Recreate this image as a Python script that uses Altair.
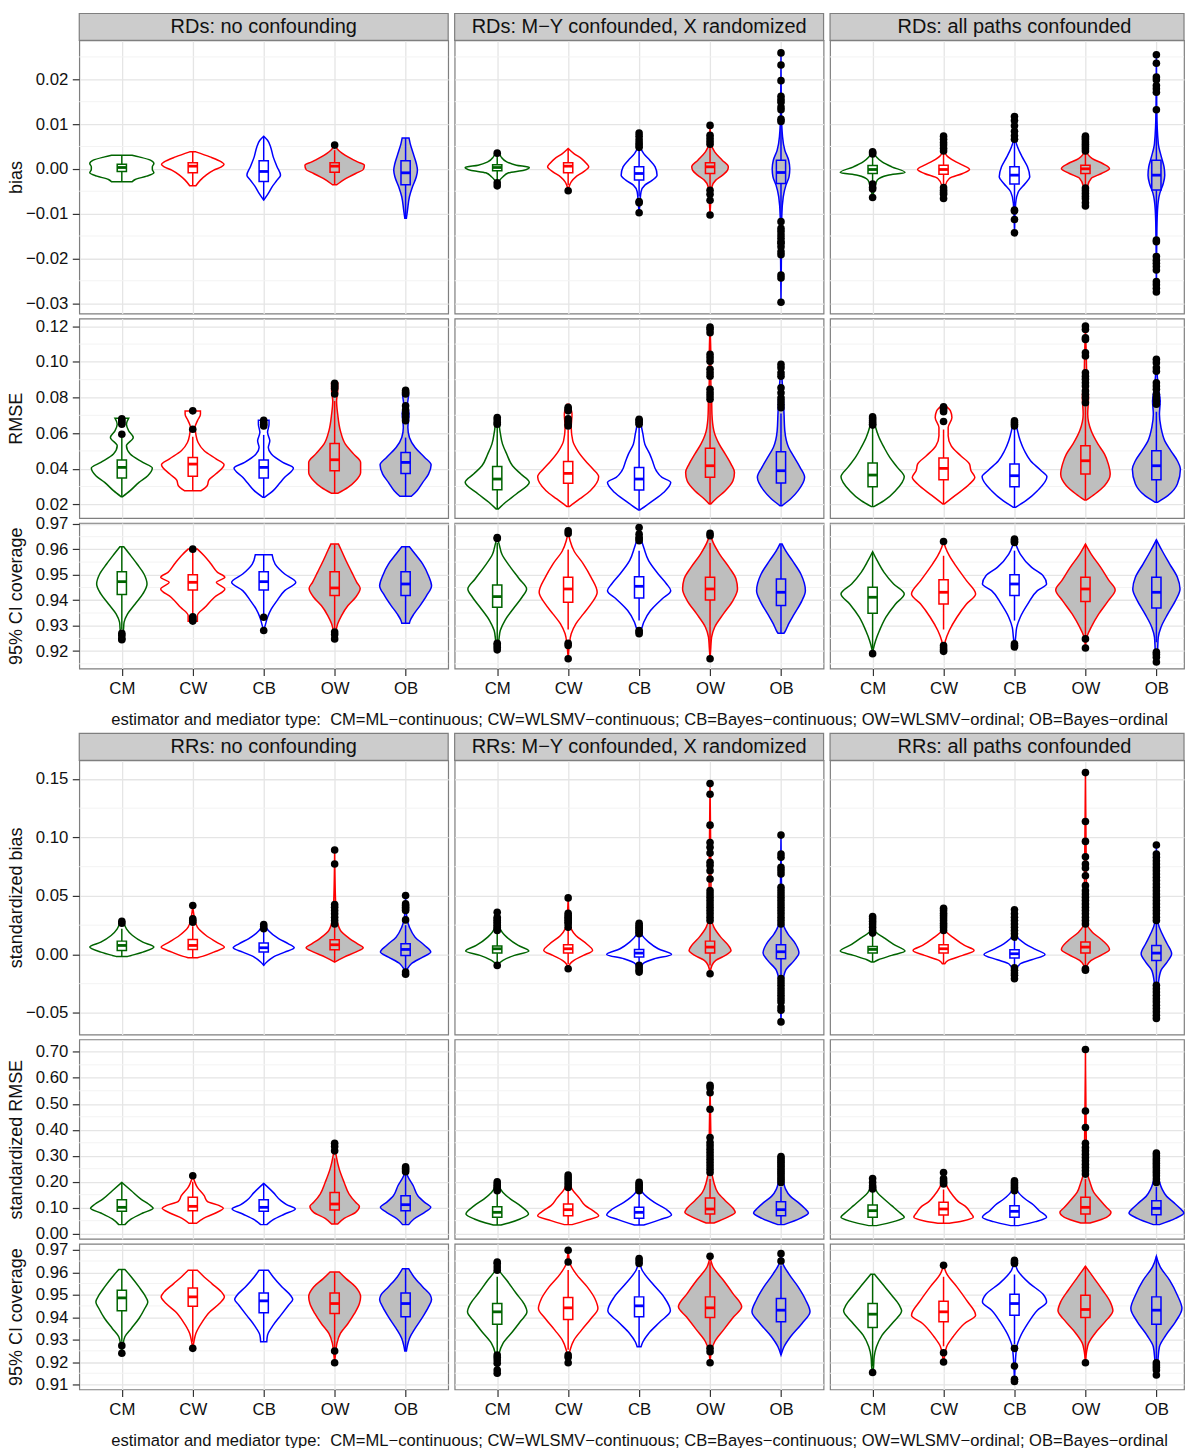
import altair as alt
import pandas as pd

FONT = "Liberation Sans"
CATS = ["CM", "CW", "CB", "OW", "OB"]
LINE = {"CM": "#006400", "CW": "#ff0000", "CB": "#0000ff", "OW": "#ff0000", "OB": "#0000ff"}
FILL = {"CM": "#ffffff", "CW": "#ffffff", "CB": "#ffffff", "OW": "#bebebe", "OB": "#bebebe"}

STRIPS_RD = ["RDs: no confounding", "RDs: M\u2212Y confounded, X randomized", "RDs: all paths confounded"]
STRIPS_RR = ["RRs: no confounding", "RRs: M\u2212Y confounded, X randomized", "RRs: all paths confounded"]
CAPTION = ("estimator and mediator type:\u00a0 CM=ML\u2212continuous; CW=WLSMV\u2212continuous; "
           "CB=Bayes\u2212continuous; OW=WLSMV\u2212ordinal; OB=Bayes\u2212ordinal")

ROW_TITLES = ["bias", "RMSE", "95% CI coverage", "standardized bias", "standardized RMSE", "95% CI coverage"]
ROW_TICKS = [
    [-0.03, -0.02, -0.01, 0.0, 0.01, 0.02],
    [0.02, 0.04, 0.06, 0.08, 0.10, 0.12],
    [0.92, 0.93, 0.94, 0.95, 0.96, 0.97],
    [-0.05, 0.0, 0.05, 0.10, 0.15],
    [0.0, 0.1, 0.2, 0.3, 0.4, 0.5, 0.6, 0.7],
    [0.91, 0.92, 0.93, 0.94, 0.95, 0.96, 0.97],
]
ROW_MINOR = [
    [-0.025, -0.015, -0.005, 0.005, 0.015, 0.025],
    [0.03, 0.05, 0.07, 0.09, 0.11],
    [0.915, 0.925, 0.935, 0.945, 0.955, 0.965],
    [-0.025, 0.025, 0.075, 0.125],
    [0.05, 0.15, 0.25, 0.35, 0.45, 0.55, 0.65],
    [0.915, 0.925, 0.935, 0.945, 0.955, 0.965],
]
ROW_DOMAINS = [
    [-0.032338, 0.028686],
    [0.012329, 0.124311],
    [0.913137, 0.970392],
    [-0.068444, 0.165938],
    [-0.02015, 0.74760],
    [0.907778, 0.972667],
]

# each estimator: (violin profile [(value, half-width in category units)], box [lo, q1, median, q3, hi], outliers)
rd_bias_a = {
    "CM": ([(0.00304, 0.145), (0.00267, 0.242), (0.00193, 0.403), (0.00119, 0.452), (0.00045, 0.43), (-0.00015, 0.43), (-0.00089, 0.452), (-0.00163, 0.35), (-0.00238, 0.188), (-0.0029, 0.145)],
           [-0.0029, -0.00059, 0.0003, 0.00104, 0.00304], []),
    "CW": ([(0.00379, 0.043), (0.00267, 0.242), (0.00156, 0.403), (0.00104, 0.441), (0.00045, 0.403), (-0.0003, 0.296), (-0.00141, 0.188), (-0.00252, 0.108), (-0.00379, 0.043)],
           [-0.00379, -0.00089, 0.0006, 0.00134, 0.00379], []),
    "CB": ([(0.00728, 0.0), (0.00638, 0.054), (0.0049, 0.097), (0.00267, 0.134), (0.00045, 0.188), (-0.00141, 0.237), (-0.00252, 0.188), (-0.00401, 0.118), (-0.00549, 0.065), (-0.00698, 0.0)],
           [-0.00698, -0.00282, -0.00059, 0.00178, 0.00728], []),
    "OW": ([(0.0053, 0.0), (0.00416, 0.054), (0.00267, 0.188), (0.00156, 0.323), (0.00082, 0.419), (-0.00015, 0.403), (-0.00104, 0.296), (-0.00215, 0.161), (-0.00327, 0.054), (-0.00356, 0.03)],
           [-0.00356, -0.00074, 0.0006, 0.00134, 0.00416], [0.0053]),
    "OB": ([(0.0069, 0.048), (0.00564, 0.065), (0.00341, 0.108), (0.00119, 0.151), (-0.0003, 0.167), (-0.00178, 0.151), (-0.00401, 0.097), (-0.00624, 0.054), (-0.00921, 0.027), (-0.01106, 0.011)],
           [-0.01106, -0.00356, -0.00089, 0.00178, 0.0069], []),
}
rd_bias_b = {
    "CM": ([(0.0035, 0.0), (0.00327, 0.03), (0.00267, 0.054), (0.00156, 0.134), (0.00082, 0.269), (0.0003, 0.452), (-0.0003, 0.376), (-0.00089, 0.161), (-0.00178, 0.081), (-0.00267, 0.03), (-0.0039, 0.0)],
           [-0.0026, -0.00045, 0.0003, 0.00089, 0.003], [0.0035, -0.0031, -0.0038]),
    "CW": ([(0.00453, 0.0), (0.00341, 0.081), (0.0023, 0.188), (0.00119, 0.258), (0.00045, 0.29), (-0.00067, 0.215), (-0.00178, 0.108), (-0.0029, 0.043), (-0.00364, 0.02), (-0.0049, 0.0)],
           [-0.0036, -0.00089, 0.0006, 0.00134, 0.0045], [-0.0049]),
    "CB": ([(0.008, 0.0), (0.0049, 0.016), (0.00341, 0.065), (0.00193, 0.151), (0.00045, 0.226), (-0.00141, 0.253), (-0.00252, 0.188), (-0.00364, 0.081), (-0.00512, 0.027), (-0.00772, 0.011), (-0.0098, 0.0)],
           [-0.0062, -0.00252, -0.00104, 0.00045, 0.0045], [0.008, 0.0073, 0.0065, 0.0058, 0.0053, 0.0048, -0.0073, -0.0076, -0.0098]),
    "OW": ([(0.0097, 0.0), (0.00564, 0.016), (0.00379, 0.065), (0.00193, 0.172), (0.00045, 0.258), (-0.0003, 0.247), (-0.00141, 0.177), (-0.00252, 0.081), (-0.00401, 0.027), (-0.00698, 0.011), (-0.0103, 0.0)],
           [-0.0045, -0.00104, 0.00045, 0.00134, 0.0049], [0.0097, 0.0075, 0.0068, 0.0061, 0.0055, -0.0048, -0.0057, -0.007, -0.0103]),
    "OB": ([(0.0259, 0.0), (0.0131, 0.005), (0.00713, 0.022), (0.00416, 0.054), (0.00193, 0.108), (0.00007, 0.124), (-0.00178, 0.113), (-0.00364, 0.07), (-0.00624, 0.032), (-0.01069, 0.011), (-0.02977, 0.0)],
           [-0.0114, -0.00327, -0.00082, 0.00193, 0.0105],
           [0.0259, 0.0232, 0.0197, 0.0162, 0.0155, 0.0149, 0.0138, 0.0132, 0.0111, 0.0106, -0.0118, -0.0133, -0.014, -0.0148, -0.0155, -0.0163, -0.0166, -0.0174, -0.0185, -0.0192, -0.0237, -0.0244, -0.0298]),
}
rd_bias_c = {
    "CM": ([(0.0042, 0.0), (0.00267, 0.054), (0.00156, 0.134), (0.00045, 0.269), (-0.00082, 0.457), (-0.00141, 0.215), (-0.00252, 0.065), (-0.00401, 0.032), (-0.0064, 0.0)],
           [-0.003, -0.00104, -0.00015, 0.00074, 0.003], [0.0038, 0.0036, 0.0033, -0.0034, -0.0041, -0.0045, -0.0064]),
    "CW": ([(0.00735, 0.0), (0.00416, 0.011), (0.003, 0.043), (0.00178, 0.151), (0.00082, 0.269), (-0.00015, 0.366), (-0.00104, 0.269), (-0.00215, 0.081), (-0.00364, 0.027), (-0.0066, 0.0)],
           [-0.0036, -0.00119, -0.00015, 0.00082, 0.0035], [0.0073, 0.0066, 0.0059, 0.0053, 0.0046, 0.004, -0.0042, -0.0048, -0.0053, -0.0057, -0.0066]),
    "CB": ([(0.01173, 0.0), (0.00638, 0.016), (0.0049, 0.043), (0.00267, 0.108), (0.00045, 0.183), (-0.00178, 0.215), (-0.00327, 0.151), (-0.00512, 0.054), (-0.00772, 0.016), (-0.01425, 0.0)],
           [-0.0085, -0.00341, -0.00141, 0.00045, 0.006], [0.0117, 0.0108, 0.0096, 0.0084, 0.0074, 0.0066, -0.0092, -0.0094, -0.0113, -0.0143]),
    "OW": ([(0.0075, 0.0), (0.00379, 0.022), (0.0023, 0.097), (0.00119, 0.242), (0.00007, 0.339), (-0.00104, 0.226), (-0.00215, 0.081), (-0.00401, 0.027), (-0.00846, 0.0)],
           [-0.0036, -0.00104, 0.0, 0.00082, 0.0037], [0.0073, 0.0069, 0.0065, 0.006, 0.0055, 0.005, 0.0045, 0.004, -0.0043, -0.0049, -0.0055, -0.0061, -0.0067, -0.0076, -0.0083]),
    "OB": ([(0.02554, 0.0), (0.0131, 0.005), (0.00564, 0.027), (0.00267, 0.07), (0.00045, 0.108), (-0.00141, 0.118), (-0.00327, 0.097), (-0.00549, 0.048), (-0.00921, 0.016), (-0.01514, 0.005), (-0.02754, 0.0)],
           [-0.0151, -0.00475, -0.00141, 0.00193, 0.0123],
           [0.0255, 0.0236, 0.0205, 0.0199, 0.0186, 0.0179, 0.0171, 0.0132, -0.0159, -0.0163, -0.0196, -0.0204, -0.0211, -0.0218, -0.0226, -0.0252, -0.0259, -0.0267, -0.0275]),
}
rd_rmse_a = {
    "CM": ([(0.02432, 0.011), (0.02768, 0.118), (0.03235, 0.242), (0.03608, 0.366), (0.04037, 0.43), (0.04355, 0.296), (0.04821, 0.118), (0.05288, 0.065), (0.05754, 0.161), (0.06128, 0.097), (0.06501, 0.065), (0.06837, 0.097)],
           [0.0243, 0.03477, 0.04075, 0.04485, 0.0575], [0.0594, 0.065, 0.066, 0.067, 0.068]),
    "CW": ([(0.02768, 0.118), (0.03048, 0.204), (0.03365, 0.226), (0.03701, 0.323), (0.04224, 0.441), (0.04541, 0.333), (0.05008, 0.161), (0.05474, 0.075), (0.05941, 0.043), (0.06314, 0.032), (0.06688, 0.065), (0.07061, 0.108), (0.07247, 0.108)],
           [0.0277, 0.03571, 0.04261, 0.04635, 0.058], [0.0622, 0.0725]),
    "CB": ([(0.02395, 0.011), (0.02768, 0.134), (0.03141, 0.215), (0.03515, 0.296), (0.04037, 0.419), (0.04355, 0.269), (0.04821, 0.108), (0.05194, 0.065), (0.05568, 0.086), (0.06034, 0.054), (0.06501, 0.075), (0.06725, 0.075)],
           [0.024, 0.03477, 0.04075, 0.04485, 0.059], [0.064, 0.065, 0.066, 0.0672]),
    "OW": ([(0.02619, 0.043), (0.02955, 0.188), (0.03328, 0.296), (0.03795, 0.366), (0.04355, 0.366), (0.04821, 0.269), (0.05381, 0.151), (0.06128, 0.081), (0.07061, 0.043), (0.07807, 0.027), (0.08367, 0.043), (0.08834, 0.043)],
           [0.0262, 0.03888, 0.04504, 0.05418, 0.078], [0.082, 0.085, 0.086, 0.087, 0.088]),
    "OB": ([(0.02451, 0.081), (0.02768, 0.161), (0.03235, 0.242), (0.03701, 0.323), (0.04224, 0.36), (0.04635, 0.269), (0.05194, 0.134), (0.05754, 0.054), (0.06314, 0.032), (0.07061, 0.048), (0.07621, 0.027), (0.08181, 0.043), (0.08405, 0.032)],
           [0.0245, 0.03739, 0.04355, 0.04915, 0.0575], [0.067, 0.069, 0.071, 0.073, 0.0753, 0.082, 0.083, 0.084]),
}
rd_rmse_b = {
    "CM": ([(0.01742, 0.016), (0.02115, 0.118), (0.02582, 0.269), (0.03235, 0.452), (0.03701, 0.333), (0.04168, 0.215), (0.04821, 0.134), (0.05381, 0.075), (0.06128, 0.038), (0.06781, 0.016), (0.0687, 0.0)],
           [0.0174, 0.02824, 0.03421, 0.04131, 0.0645], [0.065, 0.066, 0.0675, 0.0687]),
    "CW": ([(0.01872, 0.016), (0.02302, 0.161), (0.02768, 0.312), (0.03552, 0.43), (0.03981, 0.349), (0.04448, 0.242), (0.05008, 0.134), (0.05568, 0.065), (0.06314, 0.043), (0.07061, 0.054), (0.07621, 0.016)],
           [0.0187, 0.03179, 0.03739, 0.04411, 0.062], [0.064, 0.065, 0.0665, 0.068, 0.0725, 0.0735, 0.0745]),
    "CB": ([(0.01686, 0.011), (0.02115, 0.161), (0.02675, 0.349), (0.03235, 0.446), (0.03515, 0.323), (0.03888, 0.242), (0.04448, 0.188), (0.04821, 0.151), (0.05381, 0.081), (0.05941, 0.054), (0.06501, 0.027), (0.06781, 0.016)],
           [0.0169, 0.02806, 0.03421, 0.04075, 0.063], [0.065, 0.066, 0.067, 0.0678]),
    "OW": ([(0.02022, 0.011), (0.02302, 0.081), (0.02768, 0.215), (0.03328, 0.323), (0.03795, 0.344), (0.04261, 0.296), (0.04821, 0.215), (0.05381, 0.129), (0.06128, 0.054), (0.07061, 0.027), (0.07994, 0.022), (0.08927, 0.011), (0.10234, 0.011), (0.11951, 0.0)],
           [0.0202, 0.03515, 0.04168, 0.05157, 0.077], [0.079, 0.0809, 0.0827, 0.0846, 0.092, 0.0939, 0.0958, 0.1004, 0.1023, 0.1042, 0.1164, 0.1182, 0.1195]),
    "OB": ([(0.01928, 0.016), (0.02302, 0.134), (0.02768, 0.242), (0.03515, 0.333), (0.04075, 0.269), (0.04635, 0.188), (0.05194, 0.108), (0.06128, 0.054), (0.07061, 0.043), (0.07994, 0.032), (0.08927, 0.016), (0.0986, 0.0)],
           [0.0193, 0.03197, 0.03888, 0.04952, 0.071], [0.0743, 0.0762, 0.0781, 0.0799, 0.0827, 0.0855, 0.092, 0.0939, 0.0967, 0.0986]),
}
rd_rmse_c = {
    "CM": ([(0.01872, 0.016), (0.02208, 0.161), (0.02768, 0.323), (0.03552, 0.446), (0.04075, 0.349), (0.04635, 0.242), (0.05194, 0.161), (0.05754, 0.091), (0.06314, 0.043), (0.06911, 0.016)],
           [0.0187, 0.02992, 0.03645, 0.04317, 0.063], [0.0645, 0.065, 0.066, 0.067, 0.068, 0.0691]),
    "CW": ([(0.02022, 0.011), (0.02488, 0.161), (0.03141, 0.366), (0.03515, 0.441), (0.03888, 0.387), (0.04261, 0.366), (0.04728, 0.242), (0.05288, 0.108), (0.05848, 0.065), (0.06314, 0.065), (0.06874, 0.118), (0.07247, 0.097), (0.07527, 0.027)],
           [0.0202, 0.03384, 0.04019, 0.04597, 0.062], [0.0665, 0.072, 0.073, 0.074, 0.0748]),
    "CB": ([(0.01835, 0.016), (0.02208, 0.161), (0.02768, 0.323), (0.03552, 0.457), (0.03888, 0.376), (0.04448, 0.226), (0.05008, 0.14), (0.05568, 0.081), (0.06128, 0.043), (0.06688, 0.016)],
           [0.0183, 0.02992, 0.03608, 0.04261, 0.063], [0.064, 0.065, 0.066, 0.0669]),
    "OW": ([(0.02246, 0.016), (0.02582, 0.134), (0.03048, 0.269), (0.03701, 0.349), (0.04261, 0.323), (0.04821, 0.269), (0.05381, 0.177), (0.06128, 0.081), (0.07061, 0.032), (0.07994, 0.043), (0.08927, 0.022), (0.1042, 0.011), (0.12007, 0.0)],
           [0.0225, 0.03701, 0.04448, 0.05288, 0.075], [0.0771, 0.0799, 0.0818, 0.0837, 0.0865, 0.0883, 0.0902, 0.092, 0.0939, 0.1033, 0.1051, 0.1126, 0.1135, 0.1182, 0.1201]),
    "OB": ([(0.02115, 0.016), (0.02488, 0.161), (0.03141, 0.296), (0.03981, 0.339), (0.04448, 0.296), (0.05008, 0.204), (0.05568, 0.118), (0.06314, 0.065), (0.07061, 0.043), (0.07807, 0.054), (0.08554, 0.027), (0.1014, 0.0)],
           [0.0211, 0.03384, 0.04168, 0.05008, 0.072], [0.0762, 0.0781, 0.0799, 0.0818, 0.0846, 0.0865, 0.0883, 0.0948, 0.0967, 0.0995, 0.1014]),
}
rd_cov_a = {
    "CM": ([(0.96105, 0.027), (0.95817, 0.108), (0.95425, 0.215), (0.95033, 0.312), (0.9464, 0.355), (0.94248, 0.296), (0.93856, 0.188), (0.93464, 0.081), (0.93137, 0.032), (0.9281, 0.022), (0.92484, 0.0)],
           [0.9285, 0.94222, 0.94732, 0.95124, 0.961], [0.927, 0.9262, 0.925, 0.9245]),
    "CW": ([(0.96013, 0.065), (0.95752, 0.161), (0.95425, 0.258), (0.95098, 0.349), (0.94902, 0.452), (0.94706, 0.333), (0.94444, 0.452), (0.94118, 0.306), (0.93725, 0.172), (0.93399, 0.065), (0.93176, 0.065)],
           [0.934, 0.94405, 0.94706, 0.95007, 0.9595], [0.9601, 0.9335, 0.933, 0.9322, 0.9318]),
    "CB": ([(0.95791, 0.118), (0.95425, 0.161), (0.95033, 0.296), (0.94706, 0.452), (0.94379, 0.296), (0.93987, 0.188), (0.9366, 0.108), (0.93333, 0.054), (0.93072, 0.027), (0.9281, 0.0)],
           [0.9345, 0.94405, 0.94732, 0.95124, 0.958], [0.9333, 0.9281]),
    "OW": ([(0.96209, 0.054), (0.95948, 0.097), (0.95556, 0.161), (0.95098, 0.242), (0.94706, 0.312), (0.94471, 0.36), (0.94118, 0.296), (0.93791, 0.188), (0.93399, 0.097), (0.93072, 0.043), (0.92745, 0.016), (0.92484, 0.0)],
           [0.929, 0.94183, 0.94484, 0.95124, 0.962], [0.9275, 0.9265, 0.9248]),
    "OB": ([(0.96105, 0.054), (0.95817, 0.134), (0.95425, 0.242), (0.94967, 0.323), (0.94575, 0.366), (0.94183, 0.296), (0.93791, 0.204), (0.93464, 0.118), (0.93203, 0.065), (0.93098, 0.054)],
           [0.931, 0.94183, 0.9464, 0.95124, 0.961], []),
}
rd_cov_b = {
    "CM": ([(0.96471, 0.0), (0.96209, 0.027), (0.95817, 0.065), (0.95294, 0.188), (0.94837, 0.312), (0.94444, 0.414), (0.94118, 0.349), (0.93725, 0.242), (0.93203, 0.108), (0.9281, 0.043), (0.92418, 0.022), (0.92026, 0.0)],
           [0.924, 0.93725, 0.94144, 0.94601, 0.9625], [0.9647, 0.9643, 0.9231, 0.9224, 0.9215, 0.9205]),
    "CW": ([(0.96732, 0.0), (0.9634, 0.027), (0.95948, 0.081), (0.95425, 0.215), (0.94902, 0.323), (0.94314, 0.409), (0.93856, 0.323), (0.93464, 0.215), (0.93072, 0.108), (0.9268, 0.043), (0.92222, 0.016), (0.91699, 0.0)],
           [0.9285, 0.93922, 0.94444, 0.94902, 0.96], [0.9673, 0.9663, 0.9231, 0.9222, 0.917]),
    "CB": ([(0.96863, 0.0), (0.96471, 0.022), (0.96078, 0.065), (0.95556, 0.134), (0.95033, 0.269), (0.9464, 0.387), (0.94379, 0.446), (0.94052, 0.323), (0.93595, 0.161), (0.93137, 0.065), (0.92876, 0.032), (0.92745, 0.0)],
           [0.932, 0.94092, 0.94549, 0.94928, 0.9595], [0.9686, 0.966, 0.9647, 0.9641, 0.9634, 0.9281, 0.9275, 0.9268]),
    "OW": ([(0.96627, 0.0), (0.96275, 0.043), (0.95817, 0.134), (0.95294, 0.269), (0.94837, 0.366), (0.94444, 0.387), (0.93987, 0.323), (0.93464, 0.188), (0.92941, 0.065), (0.92549, 0.022), (0.92157, 0.011), (0.91699, 0.0)],
           [0.9215, 0.94013, 0.94444, 0.94902, 0.9625], [0.9663, 0.9654, 0.917]),
    "OB": ([(0.96209, 0.016), (0.95948, 0.065), (0.95556, 0.161), (0.95033, 0.28), (0.94379, 0.344), (0.93987, 0.296), (0.93464, 0.188), (0.93072, 0.108), (0.9281, 0.065), (0.92706, 0.043)],
           [0.927, 0.93791, 0.94314, 0.94837, 0.962], []),
}
rd_cov_c = {
    "CM": ([(0.95908, 0.0), (0.95556, 0.065), (0.95098, 0.161), (0.9464, 0.296), (0.94248, 0.446), (0.93856, 0.323), (0.93333, 0.188), (0.9281, 0.097), (0.92418, 0.043), (0.92092, 0.011), (0.91895, 0.0)],
           [0.921, 0.9349, 0.94118, 0.9451, 0.959], [0.919]),
    "CW": ([(0.96314, 0.0), (0.96078, 0.027), (0.95752, 0.081), (0.95294, 0.188), (0.94771, 0.323), (0.94248, 0.452), (0.93856, 0.323), (0.93333, 0.188), (0.9281, 0.081), (0.92418, 0.027), (0.92026, 0.0)],
           [0.9285, 0.93856, 0.94314, 0.9481, 0.9575], [0.9631, 0.9222, 0.9213, 0.9205, 0.9199]),
    "CB": ([(0.96405, 0.0), (0.96144, 0.027), (0.95817, 0.081), (0.95294, 0.242), (0.94967, 0.403), (0.9464, 0.452), (0.94379, 0.323), (0.93856, 0.188), (0.93333, 0.081), (0.92941, 0.032), (0.92549, 0.016), (0.92157, 0.0)],
           [0.932, 0.94183, 0.9464, 0.95007, 0.9595], [0.9641, 0.9637, 0.9631, 0.9627, 0.9229, 0.9222, 0.9216]),
    "OW": ([(0.96209, 0.0), (0.95817, 0.081), (0.95294, 0.215), (0.94771, 0.333), (0.94405, 0.419), (0.93987, 0.323), (0.93464, 0.188), (0.92941, 0.081), (0.92614, 0.027), (0.92418, 0.011), (0.92118, 0.0)],
           [0.925, 0.93948, 0.94444, 0.94902, 0.962], [0.9248, 0.9212]),
    "OB": ([(0.96379, 0.0), (0.95948, 0.081), (0.95425, 0.188), (0.94902, 0.296), (0.94444, 0.333), (0.93987, 0.269), (0.93464, 0.161), (0.92941, 0.065), (0.92549, 0.027), (0.92026, 0.016), (0.91569, 0.0)],
           [0.9235, 0.93699, 0.94314, 0.94902, 0.9638], [0.9196, 0.9187, 0.9176, 0.9157]),
}
rr_bias_a = {
    "CM": ([(0.02756, 0.027), (0.02188, 0.065), (0.01619, 0.151), (0.01051, 0.296), (0.00625, 0.452), (0.00199, 0.296), (-0.00085, 0.134), (-0.0017, 0.081)],
           [-0.0017, 0.00341, 0.00767, 0.01136, 0.022], [0.0284, 0.0267]),
    "CW": ([(0.04176, 0.0), (0.03182, 0.022), (0.0233, 0.065), (0.01619, 0.188), (0.01051, 0.333), (0.00625, 0.446), (0.00199, 0.296), (-0.0017, 0.134), (-0.00284, 0.065)],
           [-0.0028, 0.00426, 0.00767, 0.01278, 0.024], [0.0418, 0.0304, 0.029, 0.0276]),
    "CB": ([(0.02528, 0.016), (0.02045, 0.065), (0.01335, 0.215), (0.00909, 0.349), (0.00568, 0.43), (0.00199, 0.296), (-0.00227, 0.134), (-0.00653, 0.043), (-0.00938, 0.0)],
           [-0.0094, 0.00199, 0.00568, 0.00966, 0.02], [0.0256, 0.0239, 0.0219]),
    "OW": ([(0.0892, 0.0), (0.04886, 0.011), (0.03182, 0.027), (0.02045, 0.081), (0.01335, 0.215), (0.00909, 0.323), (0.00568, 0.403), (0.00199, 0.296), (-0.00227, 0.134), (-0.00653, 0.0)],
           [-0.0065, 0.00398, 0.00824, 0.0125, 0.024], [0.0892, 0.0773, 0.0426, 0.0403, 0.0375, 0.0347, 0.0318, 0.029, 0.0261]),
    "OB": ([(0.05028, 0.0), (0.03182, 0.016), (0.0233, 0.054), (0.01477, 0.134), (0.00767, 0.269), (0.00199, 0.355), (-0.00227, 0.242), (-0.00795, 0.081), (-0.01222, 0.027), (-0.0179, 0.0)],
           [-0.0125, -0.00085, 0.00426, 0.00909, 0.025], [0.0503, 0.0432, 0.0418, 0.0403, 0.0389, 0.0375, 0.0295, -0.0151, -0.017]),
}
rr_bias_b = {
    "CM": ([(0.03608, 0.0), (0.0233, 0.032), (0.01477, 0.134), (0.00767, 0.296), (0.00284, 0.446), (-0.00085, 0.242), (-0.00511, 0.081), (-0.00938, 0.0)],
           [-0.007, 0.00114, 0.00483, 0.0071, 0.0195], [0.0361, 0.0318, 0.0304, 0.029, 0.0276, 0.0261, 0.0247, 0.0233, 0.0219, 0.0205, -0.0094]),
    "CW": ([(0.0483, 0.0), (0.02614, 0.022), (0.01619, 0.108), (0.00909, 0.258), (0.00341, 0.344), (-0.00085, 0.215), (-0.00511, 0.081), (-0.00795, 0.027), (-0.01222, 0.0)],
           [-0.0085, 0.00114, 0.00483, 0.00824, 0.021], [0.0483, 0.0352, 0.0332, 0.0318, 0.0304, 0.029, 0.0276, 0.0261, 0.0233, -0.0122]),
    "CB": ([(0.0267, 0.0), (0.01761, 0.032), (0.01051, 0.134), (0.00483, 0.269), (0.0, 0.457), (-0.00369, 0.215), (-0.00795, 0.054), (-0.01506, 0.0)],
           [-0.008, -0.00227, 0.00114, 0.00426, 0.0155], [0.0267, 0.0247, 0.0233, 0.0219, 0.0205, 0.019, 0.0176, -0.0094, -0.0114, -0.0136, -0.0151]),
    "OW": ([(0.14602, 0.0), (0.07727, 0.011), (0.03182, 0.016), (0.0233, 0.054), (0.01477, 0.151), (0.00767, 0.258), (0.00341, 0.296), (-0.00085, 0.215), (-0.00511, 0.081), (-0.00938, 0.027), (-0.01648, 0.0)],
           [-0.0095, 0.00114, 0.00625, 0.01136, 0.027],
           [0.146, 0.1369, 0.1105, 0.0957, 0.0915, 0.0866, 0.0787, 0.0759, 0.0716, 0.0645, 0.0545, 0.0517, 0.0489, 0.046, 0.0432, 0.0403, 0.0375, 0.0347, 0.0318, 0.029, -0.0165]),
    "OB": ([(0.10199, 0.0), (0.04886, 0.011), (0.02614, 0.032), (0.01761, 0.097), (0.00909, 0.204), (0.00142, 0.253), (-0.00511, 0.188), (-0.01364, 0.065), (-0.025, 0.022), (-0.03636, 0.011), (-0.05767, 0.0)],
           [-0.019, -0.00369, 0.00227, 0.00824, 0.024],
           [0.102, 0.0858, 0.083, 0.0744, 0.0716, 0.0688, 0.0574, 0.0545, 0.0517, 0.0489, 0.046, 0.0432, 0.0403, 0.0375, 0.0347, 0.0318, 0.029, 0.0261,
            -0.0207, -0.0236, -0.0264, -0.0293, -0.0321, -0.0349, -0.0378, -0.0406, -0.0449, -0.0477, -0.0577]),
}
rr_bias_c = {
    "CM": ([(0.03239, 0.0), (0.02045, 0.027), (0.0142, 0.161), (0.00852, 0.296), (0.00284, 0.457), (-0.00085, 0.269), (-0.00455, 0.081), (-0.00653, 0.016)],
           [-0.0065, 0.00114, 0.00426, 0.00682, 0.0175], [0.0324, 0.0304, 0.0284, 0.0261, 0.0233, 0.0205, 0.0182]),
    "CW": ([(0.03949, 0.0), (0.02045, 0.027), (0.01335, 0.161), (0.00767, 0.296), (0.00341, 0.43), (-0.00085, 0.269), (-0.00511, 0.065), (-0.00795, 0.016)],
           [-0.008, 0.00114, 0.00483, 0.00824, 0.018], [0.0395, 0.0375, 0.0352, 0.0332, 0.0312, 0.029, 0.0267, 0.0247, 0.0227, 0.0205]),
    "CB": ([(0.03807, 0.0), (0.01619, 0.027), (0.00909, 0.151), (0.00426, 0.296), (0.0, 0.43), (-0.00455, 0.242), (-0.00795, 0.081), (-0.01364, 0.022), (-0.02074, 0.0)],
           [-0.009, -0.00312, 0.00057, 0.00398, 0.014], [0.0381, 0.0347, 0.0318, 0.029, 0.0261, 0.0233, 0.0205, 0.0176, 0.0148, -0.0114, -0.0136, -0.0159, -0.0179, -0.0207]),
    "OW": ([(0.1554, 0.0), (0.07727, 0.011), (0.02614, 0.022), (0.01903, 0.097), (0.01193, 0.242), (0.00426, 0.339), (0.0, 0.242), (-0.00511, 0.081), (-0.00938, 0.022), (-0.01364, 0.0)],
           [-0.0095, 0.00114, 0.00625, 0.01051, 0.025],
           [0.1554, 0.1136, 0.0966, 0.0835, 0.0773, 0.0739, 0.0673, 0.0588, 0.0545, 0.0517, 0.0489, 0.046, 0.0432, 0.0403, 0.0375, 0.0347, 0.0318, 0.029, 0.0261, -0.0122, -0.0136]),
    "OB": ([(0.09347, 0.0), (0.0375, 0.011), (0.02614, 0.027), (0.01761, 0.081), (0.00909, 0.151), (0.00057, 0.215), (-0.00653, 0.151), (-0.01364, 0.065), (-0.025, 0.027), (-0.03636, 0.011), (-0.05483, 0.0)],
           [-0.025, -0.00511, 0.00114, 0.00767, 0.027],
           [0.0935, 0.0858, 0.083, 0.0801, 0.0773, 0.0744, 0.0716, 0.0688, 0.0659, 0.0631, 0.0602, 0.0574, 0.0545, 0.0517, 0.0489, 0.046, 0.0432, 0.0403, 0.0375, 0.0347, 0.0318, 0.029,
            -0.0264, -0.0293, -0.0321, -0.0349, -0.0378, -0.0406, -0.0435, -0.0463, -0.0491, -0.052, -0.0548]),
}
rr_rmse_a = {
    "CM": ([(0.19725, 0.0), (0.16526, 0.134), (0.13327, 0.269), (0.11408, 0.376), (0.09744, 0.441), (0.07953, 0.296), (0.05649, 0.134), (0.03474, 0.043)],
           [0.0347, 0.08592, 0.10128, 0.13071, 0.197], []),
    "CW": ([(0.22284, 0.0), (0.17806, 0.065), (0.14607, 0.161), (0.12431, 0.204), (0.10768, 0.376), (0.09744, 0.43), (0.07953, 0.323), (0.05905, 0.151), (0.03986, 0.054)],
           [0.0399, 0.08848, 0.10512, 0.13967, 0.2], [0.2228]),
    "CB": ([(0.19341, 0.0), (0.15886, 0.134), (0.12687, 0.242), (0.11152, 0.323), (0.09488, 0.446), (0.07569, 0.296), (0.05393, 0.134), (0.03474, 0.043)],
           [0.0347, 0.08592, 0.10128, 0.13071, 0.193], []),
    "OW": ([(0.34824, 0.0), (0.29962, 0.022), (0.24843, 0.065), (0.19725, 0.134), (0.15246, 0.204), (0.12047, 0.296), (0.10512, 0.349), (0.08208, 0.296), (0.05905, 0.134), (0.0373, 0.043)],
           [0.0373, 0.09104, 0.11408, 0.15886, 0.29], [0.3188, 0.3354, 0.3482]),
    "OB": ([(0.25739, 0.0), (0.22284, 0.027), (0.18445, 0.108), (0.14607, 0.172), (0.12047, 0.269), (0.10128, 0.355), (0.08208, 0.269), (0.05649, 0.118), (0.03474, 0.043)],
           [0.0347, 0.08848, 0.11152, 0.14607, 0.228], [0.2382, 0.2446, 0.251, 0.2574]),
}
rr_rmse_b = {
    "CM": ([(0.19981, 0.0), (0.15886, 0.081), (0.13327, 0.188), (0.10768, 0.323), (0.07569, 0.441), (0.05649, 0.323), (0.04114, 0.161), (0.03346, 0.054)],
           [0.0335, 0.06289, 0.08208, 0.10384, 0.16], [0.1653, 0.1717, 0.1781, 0.1845, 0.1909, 0.1998]),
    "CW": ([(0.2254, 0.0), (0.17166, 0.054), (0.13583, 0.161), (0.10768, 0.242), (0.08848, 0.349), (0.06929, 0.43), (0.0501, 0.242), (0.03474, 0.054)],
           [0.0347, 0.06929, 0.09232, 0.11408, 0.175], [0.1781, 0.1883, 0.1973, 0.2075, 0.2164, 0.2254]),
    "CB": ([(0.19725, 0.0), (0.1563, 0.054), (0.13967, 0.118), (0.12047, 0.215), (0.09488, 0.376), (0.07185, 0.457), (0.05393, 0.296), (0.03346, 0.065)],
           [0.0335, 0.05905, 0.08208, 0.10128, 0.16], [0.1653, 0.1717, 0.1781, 0.1845, 0.1909, 0.1973]),
    "OW": ([(0.57089, 0.0), (0.37639, 0.011), (0.24843, 0.022), (0.19725, 0.054), (0.15886, 0.108), (0.12687, 0.215), (0.09488, 0.333), (0.08208, 0.355), (0.06289, 0.242), (0.04114, 0.054)],
           [0.0411, 0.07569, 0.09488, 0.13711, 0.21],
           [0.2356, 0.2484, 0.2612, 0.274, 0.2868, 0.2996, 0.3124, 0.3252, 0.338, 0.3508, 0.37, 0.4788, 0.5427, 0.5619, 0.5709]),
    "OB": ([(0.29706, 0.0), (0.22284, 0.022), (0.17166, 0.065), (0.14351, 0.134), (0.12047, 0.242), (0.09744, 0.333), (0.07953, 0.387), (0.05905, 0.269), (0.03474, 0.043)],
           [0.0347, 0.06929, 0.09232, 0.12303, 0.18],
           [0.1973, 0.2062, 0.2139, 0.2228, 0.2318, 0.2395, 0.2484, 0.2574, 0.2651, 0.274, 0.2804, 0.2894, 0.2971]),
}
rr_rmse_c = {
    "CM": ([(0.2126, 0.0), (0.15886, 0.065), (0.13327, 0.161), (0.10768, 0.269), (0.08208, 0.376), (0.06289, 0.446), (0.04626, 0.296), (0.0309, 0.054)],
           [0.0309, 0.06289, 0.08848, 0.11024, 0.16], [0.1717, 0.1781, 0.1845, 0.1973, 0.2126]),
    "CW": ([(0.23564, 0.0), (0.17806, 0.054), (0.14607, 0.134), (0.12431, 0.204), (0.10128, 0.323), (0.08208, 0.376), (0.06289, 0.419), (0.04882, 0.269), (0.03986, 0.081)],
           [0.0399, 0.07185, 0.09488, 0.12047, 0.17], [0.1909, 0.1973, 0.2036, 0.2126, 0.2356]),
    "CB": ([(0.20365, 0.0), (0.15886, 0.054), (0.13327, 0.151), (0.11024, 0.269), (0.08848, 0.349), (0.06289, 0.452), (0.04626, 0.296), (0.0309, 0.054)],
           [0.0309, 0.06289, 0.08592, 0.10768, 0.16], [0.1653, 0.1717, 0.1781, 0.1845, 0.1909, 0.1973, 0.2036]),
    "OW": ([(0.70909, 0.0), (0.37639, 0.011), (0.23564, 0.027), (0.19725, 0.065), (0.15886, 0.118), (0.12687, 0.215), (0.10128, 0.296), (0.08208, 0.36), (0.06289, 0.296), (0.04114, 0.065)],
           [0.0411, 0.07569, 0.10128, 0.13967, 0.21],
           [0.2292, 0.242, 0.2548, 0.2676, 0.2804, 0.2932, 0.306, 0.3188, 0.3316, 0.3482, 0.4084, 0.4724, 0.7091]),
    "OB": ([(0.30985, 0.0), (0.22284, 0.027), (0.17166, 0.081), (0.14351, 0.145), (0.12047, 0.242), (0.09744, 0.333), (0.07953, 0.387), (0.05905, 0.269), (0.03474, 0.043)],
           [0.0347, 0.07313, 0.09744, 0.12687, 0.18],
           [0.1973, 0.21, 0.2228, 0.2331, 0.242, 0.2523, 0.2612, 0.2715, 0.2804, 0.2894, 0.2996, 0.3099]),
}
rr_cov_a = {
    "CM": ([(0.96119, 0.043), (0.95793, 0.134), (0.95348, 0.242), (0.94978, 0.323), (0.94681, 0.366), (0.94385, 0.323), (0.93941, 0.242), (0.93496, 0.134), (0.93126, 0.043), (0.92756, 0.016), (0.92385, 0.0)],
           [0.929, 0.94281, 0.94859, 0.952, 0.961], [0.9273, 0.9239]),
    "CW": ([(0.96089, 0.065), (0.95793, 0.161), (0.95496, 0.269), (0.95126, 0.403), (0.94904, 0.446), (0.94607, 0.376), (0.94237, 0.242), (0.93793, 0.134), (0.93274, 0.043), (0.92904, 0.016), (0.92607, 0.0)],
           [0.929, 0.94489, 0.94904, 0.95304, 0.961], [0.9261]),
    "CB": ([(0.96089, 0.065), (0.95793, 0.134), (0.95348, 0.258), (0.94978, 0.376), (0.94785, 0.409), (0.94533, 0.349), (0.94089, 0.242), (0.93644, 0.134), (0.932, 0.054), (0.92904, 0.043)],
           [0.929, 0.94193, 0.94726, 0.95081, 0.961], []),
    "OW": ([(0.96015, 0.065), (0.95719, 0.161), (0.95348, 0.296), (0.94904, 0.366), (0.94607, 0.349), (0.94163, 0.28), (0.93719, 0.188), (0.93274, 0.081), (0.9283, 0.032), (0.92459, 0.016), (0.9197, 0.0)],
           [0.9265, 0.94163, 0.94607, 0.95081, 0.96], [0.9249, 0.9197]),
    "OB": ([(0.96163, 0.043), (0.95793, 0.118), (0.95348, 0.242), (0.94978, 0.349), (0.94785, 0.366), (0.94459, 0.323), (0.94015, 0.242), (0.93496, 0.134), (0.93052, 0.054), (0.92756, 0.027), (0.92489, 0.011)],
           [0.9249, 0.94015, 0.94607, 0.95081, 0.9616], []),
}
rr_cov_b = {
    "CM": ([(0.96459, 0.0), (0.96089, 0.027), (0.95644, 0.134), (0.95052, 0.269), (0.94607, 0.376), (0.94237, 0.419), (0.93793, 0.323), (0.93348, 0.215), (0.9283, 0.081), (0.92385, 0.027), (0.91941, 0.011), (0.91496, 0.0)],
           [0.924, 0.93689, 0.94237, 0.94607, 0.958], [0.9646, 0.9639, 0.9624, 0.9609, 0.9231, 0.9221, 0.9209, 0.9194, 0.9164, 0.915]),
    "CW": ([(0.96978, 0.0), (0.96385, 0.027), (0.95941, 0.108), (0.95348, 0.269), (0.9483, 0.376), (0.94385, 0.419), (0.93941, 0.323), (0.93422, 0.188), (0.92978, 0.081), (0.92533, 0.027), (0.9197, 0.0)],
           [0.9255, 0.93896, 0.94415, 0.94874, 0.961], [0.9698, 0.9646, 0.9231, 0.9221, 0.9197]),
    "CB": ([(0.96607, 0.0), (0.96089, 0.043), (0.95496, 0.188), (0.94904, 0.349), (0.94281, 0.441), (0.93793, 0.296), (0.93274, 0.134), (0.92904, 0.054), (0.92681, 0.027)],
           [0.9268, 0.94015, 0.94504, 0.94904, 0.961], [0.9639, 0.965, 0.9661]),
    "OW": ([(0.96711, 0.0), (0.96237, 0.043), (0.95644, 0.188), (0.95052, 0.323), (0.94459, 0.446), (0.94015, 0.333), (0.93422, 0.188), (0.92904, 0.065), (0.92533, 0.022), (0.9197, 0.0)],
           [0.9275, 0.93985, 0.94415, 0.94904, 0.9645], [0.9671, 0.9261, 0.9246, 0.9197]),
    "OB": ([(0.9683, 0.0), (0.96385, 0.027), (0.95941, 0.108), (0.95348, 0.242), (0.94756, 0.349), (0.94237, 0.409), (0.93719, 0.296), (0.93126, 0.134), (0.92681, 0.043), (0.92311, 0.0)],
           [0.9231, 0.93793, 0.94311, 0.9483, 0.963], [0.965, 0.9683]),
}
rr_cov_c = {
    "CM": ([(0.95911, 0.027), (0.95496, 0.134), (0.94978, 0.269), (0.94533, 0.376), (0.94281, 0.409), (0.93793, 0.296), (0.932, 0.134), (0.92681, 0.054), (0.92237, 0.022), (0.91719, 0.011), (0.91526, 0.0)],
           [0.918, 0.93541, 0.94133, 0.94607, 0.959], [0.9153]),
    "CW": ([(0.96311, 0.0), (0.95941, 0.043), (0.95348, 0.188), (0.94756, 0.323), (0.94089, 0.452), (0.93719, 0.296), (0.93126, 0.134), (0.92681, 0.043), (0.92385, 0.022), (0.92, 0.0)],
           [0.927, 0.93793, 0.94237, 0.94711, 0.958], [0.9631, 0.9241, 0.92]),
    "CB": ([(0.96533, 0.0), (0.96089, 0.043), (0.95496, 0.215), (0.95022, 0.403), (0.94681, 0.452), (0.94311, 0.323), (0.93719, 0.188), (0.93126, 0.081), (0.92681, 0.032), (0.91941, 0.011), (0.91126, 0.0)],
           [0.928, 0.94089, 0.94607, 0.95022, 0.959], [0.9653, 0.9646, 0.9639, 0.9261, 0.9182, 0.9123, 0.9113]),
    "OW": ([(0.96267, 0.0), (0.95793, 0.108), (0.952, 0.242), (0.94681, 0.349), (0.94281, 0.387), (0.93867, 0.296), (0.93274, 0.134), (0.9283, 0.043), (0.92459, 0.016), (0.9197, 0.0)],
           [0.9215, 0.93985, 0.94341, 0.94978, 0.9627], [0.9197]),
    "OB": ([(0.96711, 0.0), (0.96237, 0.054), (0.95644, 0.188), (0.94978, 0.296), (0.94385, 0.36), (0.93793, 0.269), (0.932, 0.134), (0.92681, 0.043), (0.92089, 0.022), (0.91644, 0.011), (0.91422, 0.0)],
           [0.921, 0.93689, 0.94311, 0.94904, 0.9671], [0.9197, 0.9187, 0.9176, 0.9164, 0.9142]),
}

PANELS = [
    [rd_bias_a, rd_bias_b, rd_bias_c],
    [rd_rmse_a, rd_rmse_b, rd_rmse_c],
    [rd_cov_a, rd_cov_b, rd_cov_c],
    [rr_bias_a, rr_bias_b, rr_bias_c],
    [rr_rmse_a, rr_rmse_b, rr_rmse_c],
    [rr_cov_a, rr_cov_b, rr_cov_c],
]

# ---------------- layout / style ----------------
WIDTHS = [370, 370, 355]
HEIGHTS = [274, 200, 146, 275, 200, 146]
SPACER_H = 82
UNIT_PX = 71.15
BOX_HW = 0.065
BORDER = "#7f7f7f"
STRIP_FILL = "#cccccc"
MAJOR_GRID = "#e5e5e5"
MINOR_GRID = "#f3f3f3"
TEXT = "#111111"
LABEL_EXPR = "[" + ",".join("'%s'" % c for c in CATS) + "][datum.value - 1]"


def make_panel(panel, r, c):
    W, H = WIDTHS[c], HEIGHTS[r]
    xs = alt.Scale(domain=[0.4, 0.4 + W / UNIT_PX], nice=False, zero=False)
    ys = alt.Scale(domain=ROW_DOMAINS[r], nice=False, zero=False)
    top = r in (0, 3)
    bottom = r in (2, 5)

    vio, boxes, whisk, pts = [], [], [], []
    for i, cat in enumerate(CATS, start=1):
        prof, box, out = panel[cat]
        for v, w in sorted(prof):
            vio.append(dict(cat=cat, y=v, xl=i - w, xr=i + w, fill=FILL[cat], stroke=LINE[cat]))
        lo, q1, md, q3, hi = box
        boxes.append(dict(cat=cat, xl=i - BOX_HW, xr=i + BOX_HW, q1=q1, md=md, q3=q3,
                          fill=FILL[cat], stroke=LINE[cat]))
        whisk.append(dict(cat=cat, x=i, y1=lo, y2=q1, stroke=LINE[cat]))
        whisk.append(dict(cat=cat, x=i, y1=q3, y2=hi, stroke=LINE[cat]))
        for v in out:
            pts.append(dict(x=i, y=v))
    vdf = pd.DataFrame(vio)
    bdf = pd.DataFrame(boxes)
    wdf = pd.DataFrame(whisk)
    pdf = pd.DataFrame(pts, columns=["x", "y"])

    if c == 0:
        yaxis = alt.Axis(values=ROW_TICKS[r], format=".2f", grid=True, tickSize=7, labelPadding=4.5,
                         minExtent=54, maxExtent=54, titlePadding=0, title=ROW_TITLES[r])
    else:
        yaxis = alt.Axis(values=ROW_TICKS[r], grid=True, labels=False, ticks=False, title=None)
    if bottom:
        xaxis = alt.Axis(values=[1, 2, 3, 4, 5], labelExpr=LABEL_EXPR, grid=True, tickSize=7,
                         labelPadding=5, labelFlush=False,
                         title=CAPTION if c == 1 else None, titleFontSize=16.6, titlePadding=14)
    else:
        xaxis = alt.Axis(values=[1, 2, 3, 4, 5], grid=True, labels=False, ticks=False, title=None)

    def X(f):
        return alt.X(f, scale=xs, axis=xaxis)

    def Y(f):
        return alt.Y(f, scale=ys, axis=yaxis)

    minor = alt.Chart(pd.DataFrame({"v": ROW_MINOR[r]})).mark_rule(color=MINOR_GRID, strokeWidth=1).encode(
        y=Y("v:Q"), x=alt.value(0), x2=alt.value(W))
    violins = alt.Chart(vdf).mark_area(orient="horizontal", interpolate="monotone", strokeWidth=1.5).encode(
        y=Y("y:Q"), x=X("xl:Q"), x2="xr:Q",
        fill=alt.Fill("fill:N", scale=None),
        stroke=alt.Stroke("stroke:N", scale=None),
        detail="cat:N")
    whiskers = alt.Chart(wdf).mark_rule(strokeWidth=1.5).encode(
        x=X("x:Q"), y=Y("y1:Q"), y2="y2:Q",
        stroke=alt.Stroke("stroke:N", scale=None))
    boxl = alt.Chart(bdf).mark_rect(strokeWidth=1.5).encode(
        x=X("xl:Q"), x2="xr:Q", y=Y("q1:Q"), y2="q3:Q",
        fill=alt.Fill("fill:N", scale=None),
        stroke=alt.Stroke("stroke:N", scale=None))
    medians = alt.Chart(bdf).mark_rule(strokeWidth=2.8).encode(
        x=X("xl:Q"), x2="xr:Q", y=Y("md:Q"),
        stroke=alt.Stroke("stroke:N", scale=None))
    points = alt.Chart(pdf).mark_circle(size=58, color="black", opacity=1).encode(
        x=X("x:Q"), y=Y("y:Q"))
    layers = [minor, violins, whiskers, boxl, medians, points]
    if top:
        strip = (STRIPS_RD if r == 0 else STRIPS_RR)[c]
        sdf = pd.DataFrame({"t": [strip]})
        layers.append(alt.Chart(sdf).mark_rect(fill=STRIP_FILL, stroke=BORDER, strokeWidth=1.2).encode(
            x=alt.value(0), x2=alt.value(W), y=alt.value(-27), y2=alt.value(0)))
        layers.append(alt.Chart(sdf).mark_text(font=FONT, fontSize=20, color=TEXT, baseline="middle",
                                               align="center").encode(
            x=alt.value(185), y=alt.value(-13.5), text="t:N"))
    return alt.layer(*layers).properties(width=W, height=H)


def spacer(c):
    return alt.Chart(pd.DataFrame({"a": [0]})).mark_point(opacity=0).encode(
        x=alt.value(0), y=alt.value(0)).properties(
        width=WIDTHS[c], height=SPACER_H, view=alt.ViewBackground(stroke="transparent"))


charts = []
for r in range(6):
    if r == 3:
        charts += [spacer(c) for c in range(3)]
    for c in range(3):
        charts.append(make_panel(PANELS[r][c], r, c))

chart = alt.concat(*charts, columns=3, spacing={"row": 5, "column": 6.5}, bounds="flush", align="each").properties(
    padding={"left": 6.5, "top": 9.4, "right": 0, "bottom": 0}, background="white"
).configure_view(stroke=BORDER, strokeWidth=1.2).configure_axis(
    labelFont=FONT, titleFont=FONT, labelFontSize=16.8, titleFontSize=18, titleFontWeight="normal",
    labelColor=TEXT, titleColor=TEXT, tickColor="#333333", tickWidth=1.2,
    gridColor=MAJOR_GRID, gridWidth=1.3, domain=False)

chart.save("out.html", embed_options={"renderer": "svg", "actions": False})
